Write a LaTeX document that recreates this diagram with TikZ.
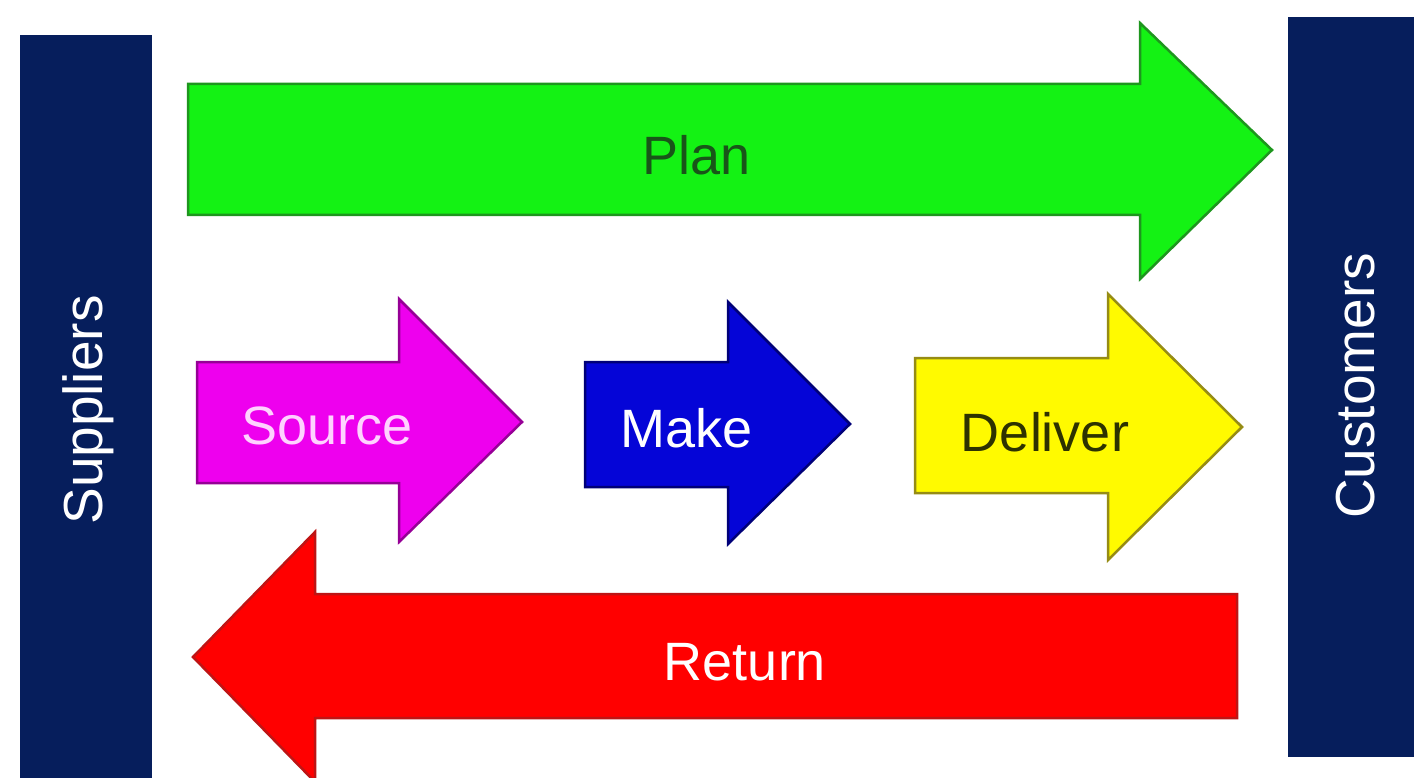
\documentclass[tikz,border=0pt]{standalone}
\usepackage{fontspec}
\setmainfont{Liberation Sans}
\definecolor{navy}{RGB}{6,30,92}
\definecolor{plang}{RGB}{20,242,20}
\definecolor{plano}{RGB}{30,150,30}
\definecolor{plantext}{RGB}{25,85,25}
\definecolor{srcm}{RGB}{238,0,238}
\definecolor{srco}{RGB}{150,0,150}
\definecolor{srctext}{RGB}{255,210,255}
\definecolor{makeb}{RGB}{5,5,215}
\definecolor{makeo}{RGB}{0,0,120}
\definecolor{dely}{RGB}{255,250,0}
\definecolor{delo}{RGB}{150,140,20}
\definecolor{deltext}{RGB}{45,50,0}
\definecolor{retr}{RGB}{255,0,0}
\definecolor{reto}{RGB}{190,20,20}
\tikzset{
  bar/.style={fill=navy,draw=none},
  arrowshape/.style={line width=2.5pt,line join=miter},
  lbl/.style={font=\fontsize{54}{60}\selectfont,inner sep=0pt},
  barlbl/.style={font=\fontsize{55}{60}\selectfont,text=white,rotate=90,inner sep=0pt}
}
\begin{document}
\begin{tikzpicture}[x=1pt,y=-1pt]
\useasboundingbox (0,0) rectangle (1414,778);
\clip (0,0) rectangle (1414,778);
\fill[white] (0,0) rectangle (1414,778);
% side bars
\fill[bar] (20,35) rectangle (152,790);
\fill[bar] (1288,17) rectangle (1420,757);
\node[barlbl] (suppliers) at (88,410) {Suppliers};
\node[barlbl] (customers) at (1356,386) {Customers};
% Plan
\draw[arrowshape,fill=plang,draw=plano] (188,84) -- (1140,84) -- (1140,23) -- (1272,150) -- (1140,279) -- (1140,215) -- (188,215) -- cycle;
\node[lbl,text=plantext] (plan) at (697,155) {Plan};
% Source
\draw[arrowshape,fill=srcm,draw=srco] (197,362) -- (399,362) -- (399,299) -- (522,422) -- (399,542) -- (399,483) -- (197,483) -- cycle;
\node[lbl,text=srctext] (source) at (327,426) {Source};
% Make
\draw[arrowshape,fill=makeb,draw=makeo] (585,362) -- (728,362) -- (728,302) -- (850,424) -- (728,544) -- (728,487) -- (585,487) -- cycle;
\node[lbl,text=white] (make) at (687,428) {Make};
% Deliver
\draw[arrowshape,fill=dely,draw=delo] (915,358) -- (1108,358) -- (1108,294) -- (1242,427) -- (1108,560) -- (1108,493) -- (915,493) -- cycle;
\node[lbl,text=deltext] (deliver) at (1045,432) {Deliver};
% Return
\draw[arrowshape,fill=retr,draw=reto] (1237,594) -- (1237,718) -- (315,718) -- (315,782) -- (193,657) -- (315,532) -- (315,594) -- cycle;
\node[lbl,text=white] (return) at (745,662) {Return};
\end{tikzpicture}
\end{document}
